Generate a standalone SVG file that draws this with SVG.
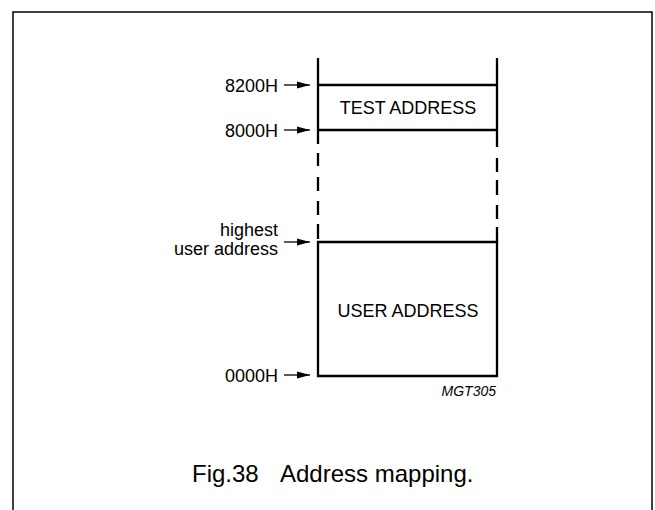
<svg xmlns="http://www.w3.org/2000/svg" width="655" height="510" viewBox="0 0 655 510">
<defs>
<style>
.lbl{font-family:"Liberation Sans",Arial,sans-serif;font-size:18px;fill:#000}
.ln{stroke:#000;stroke-width:2.3;fill:none}
.ar{stroke:#000;stroke-width:1.3;fill:none}
</style>
<marker id="ah" markerWidth="13" markerHeight="8" refX="13" refY="4" orient="auto" markerUnits="userSpaceOnUse">
<path d="M0,0.6 L13,4 L0,7.4 Z" fill="#000"/>
</marker>
</defs>
<rect width="655" height="510" fill="#fff"/>
<path d="M13,515 V12 H652 V515" fill="none" stroke="#000" stroke-width="1.5"/>
<g id="test-address">
<path class="ln" d="M318,58 V144 M497,58 V147 M318,85 H497 M318,130 H497"/>
<text class="lbl" x="408" y="114" text-anchor="middle">TEST ADDRESS</text>
</g>
<g id="gap">
<path class="ln" d="M318,153 V166 M318,177 V191 M318,201 V215 M318,224 V239 M497,158 V172 M497,180 V195 M497,205 V219 M497,227 V242"/>
</g>
<g id="user-address">
<path class="ln" d="M318,242 H497 V376 H318 Z"/>
<text class="lbl" x="408" y="317" text-anchor="middle">USER ADDRESS</text>
</g>
<g id="connectors">
<line class="ar" x1="284" y1="85" x2="310" y2="85" marker-end="url(#ah)"/>
<line class="ar" x1="284" y1="130" x2="310" y2="130" marker-end="url(#ah)"/>
<line class="ar" x1="284" y1="242" x2="310" y2="242" marker-end="url(#ah)"/>
<line class="ar" x1="284" y1="375" x2="310" y2="375" marker-end="url(#ah)"/>
</g>
<g id="labels">
<text class="lbl" x="278" y="91.5" text-anchor="end">8200H</text>
<text class="lbl" x="278" y="136.5" text-anchor="end">8000H</text>
<text class="lbl" x="278" y="236" text-anchor="end">highest</text>
<text class="lbl" x="278" y="255" text-anchor="end">user address</text>
<text class="lbl" x="278" y="381.5" text-anchor="end">0000H</text>
<text x="496" y="396" text-anchor="end" font-family="Liberation Sans,Arial,sans-serif" font-size="14" font-style="italic">MGT305</text>
</g>
<text id="caption" font-family="Liberation Sans,Arial,sans-serif" font-size="24" y="482"><tspan x="192">Fig.38</tspan><tspan x="280">Address mapping.</tspan></text>
</svg>
